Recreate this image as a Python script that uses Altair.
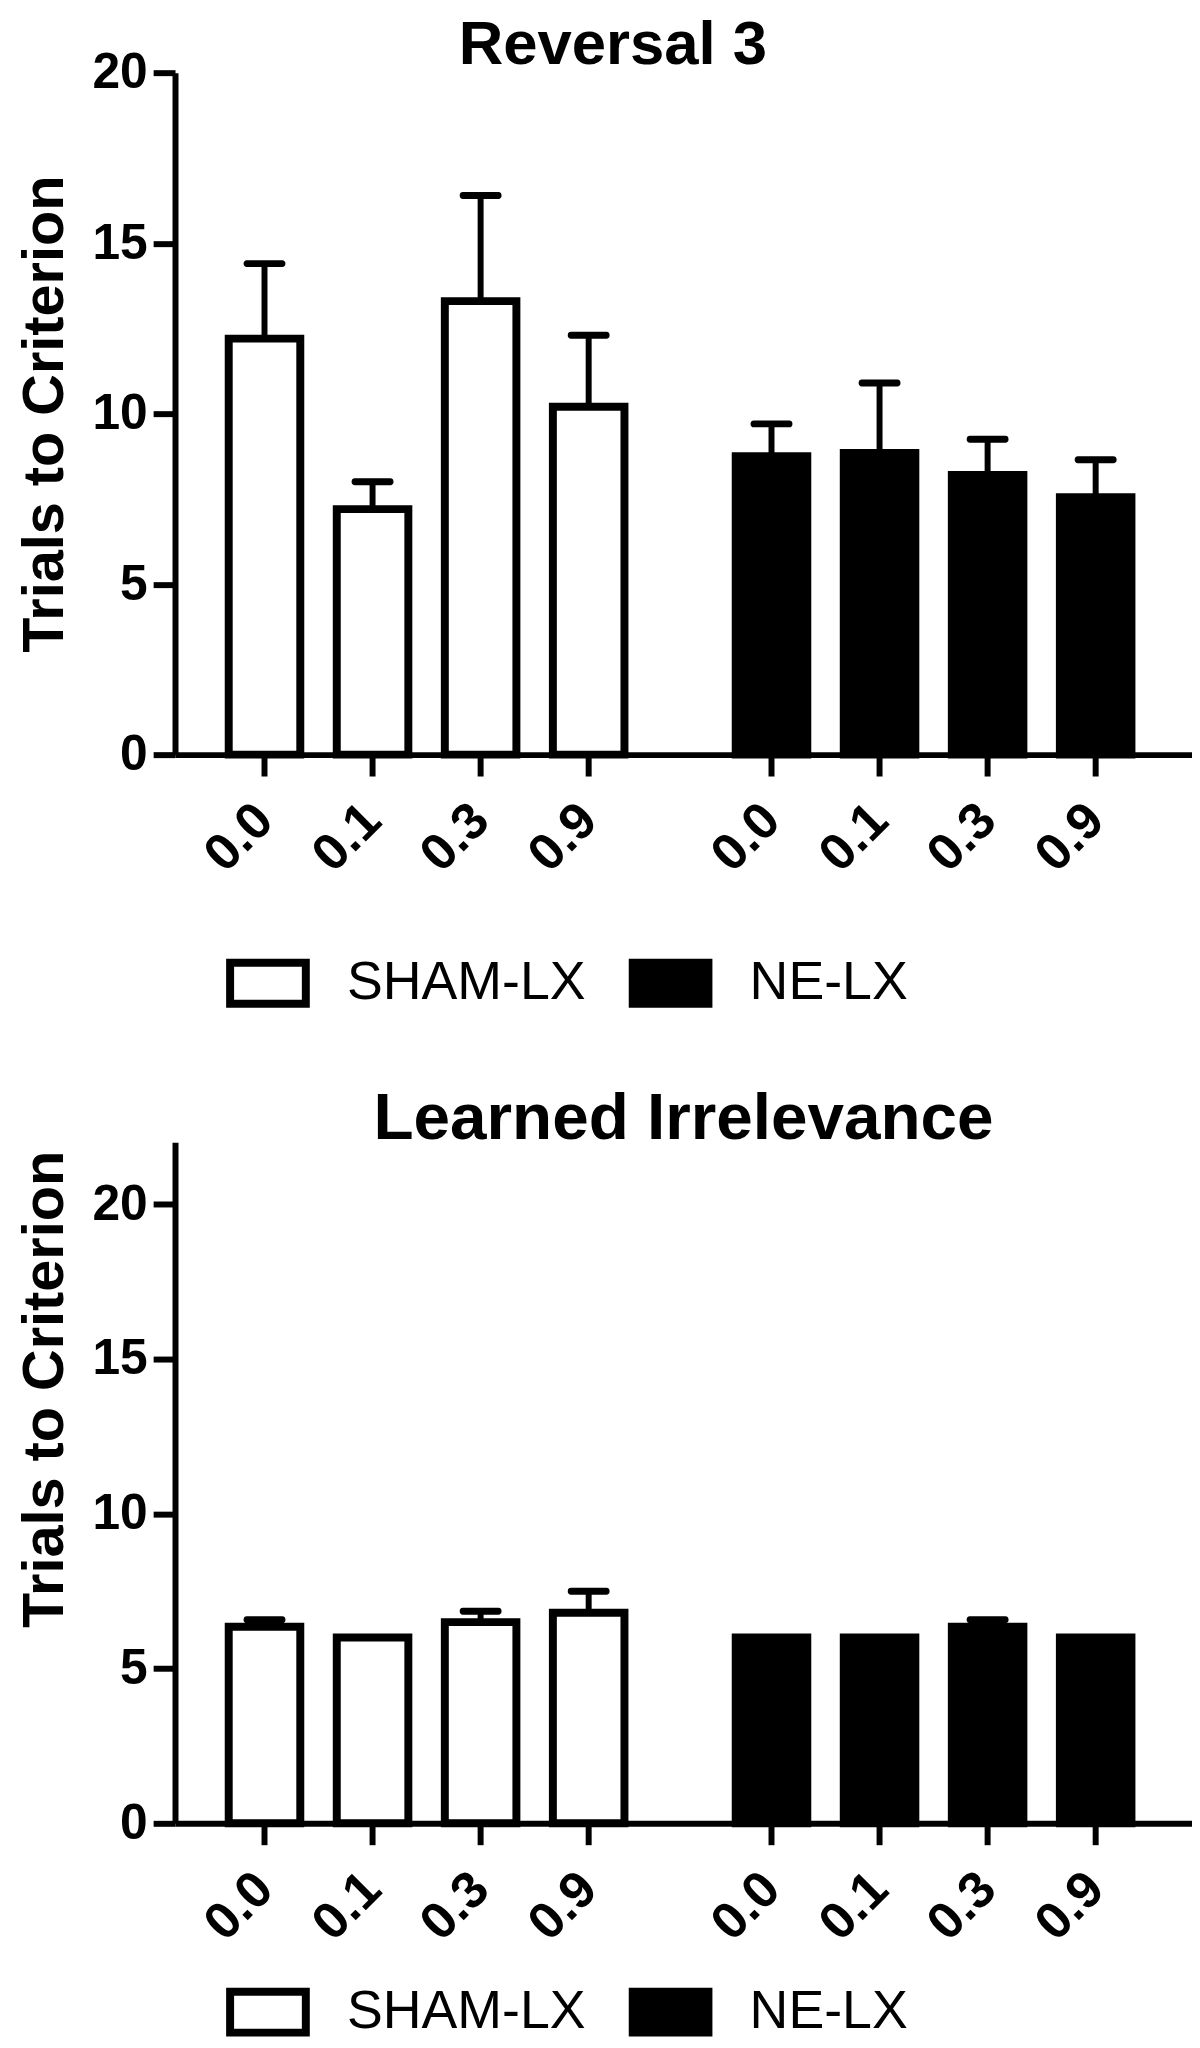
import altair as alt
import pandas as pd

# ---------------- data ----------------
doses = ["0.0", "0.1", "0.3", "0.9"]
groups = ["SHAM-LX", "NE-LX"]

rev3_sham_mean = [12.2, 7.2, 13.3, 10.2]
rev3_sham_sem = [2.2, 0.8, 3.1, 2.1]
rev3_ne_mean = [8.75, 8.85, 8.2, 7.55]
rev3_ne_sem = [0.95, 2.05, 1.05, 1.1]

li_sham_mean = [6.35, 6.0, 6.5, 6.8]
li_sham_sem = [0.23, 0.0, 0.35, 0.7]
li_ne_mean = [6.0, 6.0, 6.35, 6.0]
li_ne_sem = [0.0, 0.0, 0.23, 0.0]

y_ticks = [0, 5, 10, 15, 20]

FONT = "Liberation Sans"


def frame(sham_mean, sham_sem, ne_mean, ne_sem):
    rows = []
    for g, means, sems in ((groups[0], sham_mean, sham_sem), (groups[1], ne_mean, ne_sem)):
        for d, m, s in zip(doses, means, sems):
            rows.append({"group": g, "dose": d, "mean": m, "upper": m + s, "sem": s})
    return pd.DataFrame(rows)


def panel(df, title, title_size, title_dx, title_offset, ymax, height, legend_y, title_y=None):
    xscale = alt.Scale(domain=groups, paddingInner=0.1475, paddingOuter=0.0767, align=0.456)
    xaxis = alt.Axis(title=None, labels=False, ticks=False, domainWidth=6, domainColor="black")
    x = alt.X("group:N", scale=xscale, axis=xaxis)
    xo = alt.XOffset("dose:N", scale=alt.Scale(domain=doses, paddingInner=0.3376, paddingOuter=0.1688))

    yscale = alt.Scale(domain=[0, ymax], nice=False, zero=True)
    axis_kw = dict(
        title="Trials to Criterion", values=y_ticks, grid=False,
        labelFont=FONT, labelFontSize=50, labelFontWeight="bold", labelColor="black",
        labelPadding=6, tickSize=22, tickWidth=6, tickColor="black",
        domainWidth=6, domainColor="black",
        titleFont=FONT, titleFontSize=58, titleFontWeight="bold", titleColor="black",
        titleX=-113, titleBaseline="alphabetic",
    )
    if title_y is not None:
        axis_kw["titleY"] = title_y
    yaxis = alt.Axis(**axis_kw)

    base = alt.Chart(df)
    bars = base.mark_bar(stroke="black", strokeWidth=8).encode(
        x=x, xOffset=xo,
        y=alt.Y("mean:Q", scale=yscale, axis=yaxis, stack=None),
        fill=alt.Fill(
            "group:N",
            scale=alt.Scale(domain=groups, range=["white", "black"]),
            legend=alt.Legend(
                orient="none", legendX=51, legendY=legend_y, direction="horizontal",
                title=None, padding=0,
                symbolType="M-1,-0.54H1V0.54H-1Z", symbolSize=5800,
                symbolStrokeColor="black", symbolStrokeWidth=8,
                labelFont=FONT, labelFontSize=54, labelColor="black",
                labelLimit=600, labelOffset=37, columnPadding=30,
            ),
        ),
    )
    err = base.transform_filter("datum.sem > 0").mark_rule(color="black", strokeWidth=6).encode(
        x=x, xOffset=xo,
        y=alt.Y("mean:Q", scale=yscale, axis=yaxis),
        y2="upper:Q",
    )
    caps = base.transform_filter("datum.sem > 0").mark_tick(
        color="black", thickness=7, size=42, cornerRadius=3, opacity=1
    ).encode(
        x=x, xOffset=xo,
        y=alt.Y("upper:Q", scale=yscale, axis=yaxis),
    )
    ticks = base.mark_tick(orient="vertical", color="black", thickness=6, size=22, opacity=1).encode(
        x=x, xOffset=xo,
        y=alt.Y(datum=0, scale=yscale, axis=yaxis),
        yOffset=alt.value(11),
    )
    labels = base.mark_text(
        angle=315, align="right", baseline="middle",
        font=FONT, fontSize=52, fontWeight="bold", color="black",
    ).encode(
        x=x, xOffset=xo,
        y=alt.Y(datum=0, scale=yscale, axis=yaxis),
        yOffset=alt.value(58),
        text="dose:N",
    )
    return alt.layer(bars, err, caps, ticks, labels).properties(
        width=1023, height=height,
        title=alt.Title(title, font=FONT, fontSize=title_size, fontWeight="bold", color="black",
                        anchor="middle", frame="group", dx=title_dx, offset=title_offset),
    )


top = panel(frame(rev3_sham_mean, rev3_sham_sem, rev3_ne_mean, rev3_ne_sem),
            "Reversal 3", 62, -71, -29, 20, 686, 873)
bottom = panel(frame(li_sham_mean, li_sham_sem, li_ne_mean, li_ne_sem),
               "Learned Irrelevance", 66, 0, -11, 22, 685, 832, title_y=248)

chart = alt.vconcat(top, bottom, spacing=390, bounds="flush").resolve_scale(
    fill="independent", y="independent", x="independent"
).resolve_legend(fill="independent").configure_view(stroke=None).properties(
    padding={"left": 8, "top": 0, "right": 0, "bottom": 0}, background="white"
)

chart.save("out.html", embed_options={"renderer": "svg", "actions": False})
